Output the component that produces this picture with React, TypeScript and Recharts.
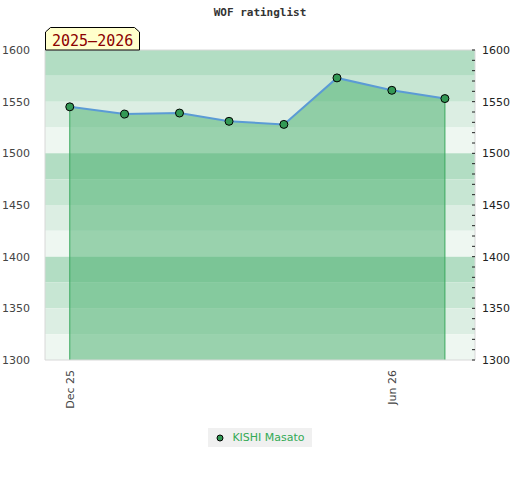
import {
  ComposedChart,
  Area,
  XAxis,
  YAxis,
  ReferenceArea,
  ReferenceLine,
  Legend,
} from "recharts";

// monthly rating snapshots
const months = [
  "2025-12-01",
  "2026-01-01",
  "2026-02-01",
  "2026-03-01",
  "2026-04-01",
  "2026-05-01",
  "2026-06-01",
  "2026-07-01",
];
const ratings = [1545, 1538, 1539, 1531, 1528, 1573, 1561, 1553];
const playerName = "KISHI Masato";
const seasonLabel = "2025–2026";

const xTickDates = ["2025-12-01", "2026-06-01"];
const xDomainDates = ["2025-11-17", "2026-07-18"];
const yLabelTicks = [1300, 1350, 1400, 1450, 1500, 1550, 1600];
const yMinorTicks = [
  1300, 1310, 1320, 1330, 1340, 1350, 1360, 1370, 1380, 1390, 1400, 1410,
  1420, 1430, 1440, 1450, 1460, 1470, 1480, 1490, 1500, 1510, 1520, 1530,
  1540, 1550, 1560, 1570, 1580, 1590, 1600,
];
const bandEdges = [
  1600, 1575, 1550, 1525, 1500, 1475, 1450, 1425, 1400, 1375, 1350, 1325,
  1300,
];
const bandColors = ["#b2ddc3", "#c7e6d3", "#dceee3", "#eef7f1"];

const toTime = (s: string) => Date.parse(s + "T00:00:00Z");
const data = months.map((m, i) => ({ t: toTime(m), rating: ratings[i] }));
const MONTHS = ["Jan", "Feb", "Mar", "Apr", "May", "Jun", "Jul", "Aug", "Sep", "Oct", "Nov", "Dec"];
const fmtDate = (t: number) => {
  const d = new Date(t);
  return `${MONTHS[d.getUTCMonth()]} ${String(d.getUTCFullYear()).slice(2)}`;
};

const FONT = "'DejaVu Sans', sans-serif";
const MONO = "'DejaVu Sans Mono', monospace";

function XTick(props: any) {
  const { x, y, payload } = props;
  return (
    <text
      x={0}
      y={0}
      transform={`translate(${x + 4},${y + 2}) rotate(-90)`}
      textAnchor="end"
      fontSize={11}
      fontFamily={FONT}
      fill="#444"
    >
      {fmtDate(payload.value)}
    </text>
  );
}

function RightTick(props: any) {
  const { x, y, payload } = props;
  const axisX = x - 7;
  const labelled = payload.value % 50 === 0;
  return (
    <g>
      <line x1={axisX - 3} x2={axisX} y1={y} y2={y} stroke="#222" strokeWidth={1} />
      {labelled && (
        <text x={axisX + 7} y={y + 4} fontSize={11} fontFamily={FONT} fill="#222">
          {payload.value}
        </text>
      )}
    </g>
  );
}

function LegendBox() {
  return (
    <div
      style={{
        display: "inline-flex",
        alignItems: "center",
        background: "#f0f0f0",
        padding: "2px 7px 2px 8px",
        height: 15,
        fontFamily: FONT,
        fontSize: 11,
        color: "#33aa55",
      }}
    >
      <svg width={8} height={8} style={{ marginRight: 8 }}>
        <circle cx={4} cy={4} r={3} fill="#339955" stroke="#000" strokeWidth={1} />
      </svg>
      {playerName}
    </div>
  );
}

export default function App() {
  return (
    <div style={{ position: "absolute", left: 0, top: 0, width: 520, height: 480, background: "#fff" }}>
      <div
        style={{
          position: "absolute",
          top: 6,
          width: 520,
          textAlign: "center",
          fontFamily: MONO,
          fontWeight: "bold",
          fontSize: 11,
          color: "#333",
        }}
      >
        WOF ratinglist
      </div>
      <ComposedChart
        width={520}
        height={480}
        data={data}
        margin={{ top: 50, right: 0, bottom: 60, left: 0 }}
      >
        {bandEdges.slice(0, -1).map((top, i) => (
          <ReferenceArea
            key={top}
            yAxisId="left"
            y1={bandEdges[i + 1]}
            y2={top}
            fill={bandColors[i % 4]}
            fillOpacity={1}
            stroke="none"
          />
        ))}
        <XAxis
          dataKey="t"
          type="number"
          scale="time"
          domain={xDomainDates.map(toTime)}
          ticks={xTickDates.map(toTime)}
          tick={<XTick />}
          tickLine={false}
          axisLine={{ stroke: "#d8d8d8" }}
          height={60}
          allowDataOverflow
        />
        <YAxis
          yAxisId="left"
          orientation="left"
          domain={[1300, 1600]}
          ticks={yLabelTicks}
          width={45}
          tickLine={false}
          axisLine={{ stroke: "#d8d8d8" }}
          tick={{ fontSize: 11, fontFamily: FONT, fill: "#444" }}
          tickMargin={9}
          allowDataOverflow
        />
        <YAxis
          yAxisId="right"
          orientation="right"
          domain={[1300, 1600]}
          ticks={yMinorTicks}
          width={45}
          tickLine={false}
          tickSize={0}
          tickMargin={7}
          axisLine={{ stroke: "#d8d8d8" }}
          tick={<RightTick />}
          interval={0}
          allowDataOverflow
        />
        <ReferenceLine yAxisId="left" y={1600} stroke="#d8d8d8" />
        <Area
          yAxisId="left"
          type="linear"
          dataKey="rating"
          name={playerName}
          stroke="#5b9bd5"
          strokeWidth={2}
          fill="#44ad69"
          fillOpacity={0.5}
          dot={{ r: 4, fill: "#339955", stroke: "#000", strokeWidth: 1, fillOpacity: 1 }}
          activeDot={false}
          isAnimationActive={false}
        />
        <ReferenceLine
          yAxisId="left"
          segment={[
            { x: data[0].t, y: 1300 },
            { x: data[0].t, y: data[0].rating },
          ]}
          stroke="#3aa85e"
        />
        <ReferenceLine
          yAxisId="left"
          segment={[
            { x: data[data.length - 1].t, y: 1300 },
            { x: data[data.length - 1].t, y: data[data.length - 1].rating },
          ]}
          stroke="#3aa85e"
        />
        <Legend
          verticalAlign="middle"
          align="center"
          layout="horizontal"
          content={<LegendBox />}
          wrapperStyle={{ top: 428, left: 0, width: 520, textAlign: "center", lineHeight: "15px" }}
        />
      </ComposedChart>
      <svg width={100} height={30} style={{ position: "absolute", left: 44, top: 26 }}>
        <path
          d="M1.5,24 L1.5,6 L6.5,1.5 L90.5,1.5 L95.5,6 L95.5,24 Z"
          fill="#ffffcc"
          stroke="#000"
          strokeWidth={1}
        />
        <text x={8} y={19.5} fontFamily={MONO} fontSize={15} fill="#8b0000">
          {seasonLabel}
        </text>
      </svg>
    </div>
  );
}
